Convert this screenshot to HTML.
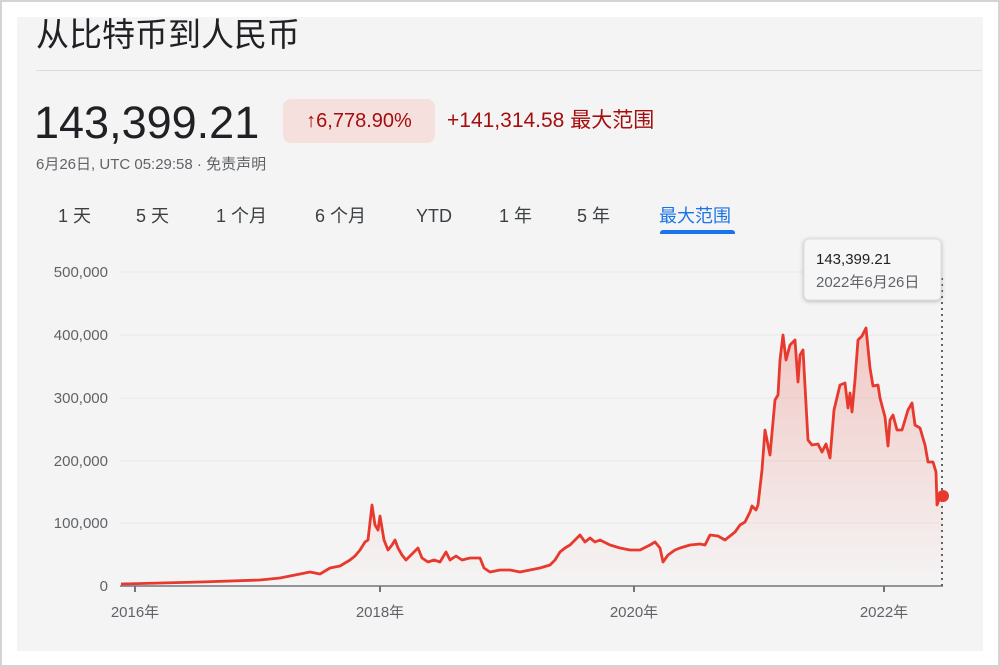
<!DOCTYPE html>
<html><head><meta charset="utf-8"><style>
body{margin:0;width:1000px;height:667px;background:#fff;font-family:"Liberation Sans","Noto Sans CJK SC",sans-serif;position:relative;overflow:hidden}
.frame{position:absolute;left:0;top:0;width:996px;height:663px;border:2px solid #d4d4d4}
.panel{position:absolute;left:17px;top:17px;width:966px;height:634px;background:#f4f4f4}
.t{position:absolute;white-space:nowrap;line-height:1.2}
.tab{position:absolute;white-space:nowrap;top:204px;height:24px;line-height:24px;font-size:18px;color:#3c4043}
</style></head><body>
<div class="frame"></div>
<div class="panel"></div>
<div class="t" style="left:36px;top:15px;font-size:33px;color:#202124">从比特币到人民币</div>
<div style="position:absolute;left:36px;top:70px;width:946px;height:1px;background:#dadce0"></div>
<div class="t" style="left:34px;top:96px;font-size:45px;color:#202124">143,399.21</div>
<div style="position:absolute;left:283px;top:99px;width:152px;height:44px;background:#f6e0de;border-radius:8px;color:#a50e0e;font-size:20px;line-height:44px;text-align:center">↑6,778.90%</div>
<div class="t" style="left:447px;top:108px;font-size:21px;color:#a50e0e">+141,314.58 最大范围</div>
<div class="t" style="left:36px;top:156px;font-size:15px;color:#5f6368">6月26日, UTC 05:29:58 · 免责声明</div>
<div class="tab" style="left:58px">1 天</div>
<div class="tab" style="left:136px">5 天</div>
<div class="tab" style="left:216px">1 个月</div>
<div class="tab" style="left:315px">6 个月</div>
<div class="tab" style="left:416px">YTD</div>
<div class="tab" style="left:499px">1 年</div>
<div class="tab" style="left:577px">5 年</div>
<div class="tab" style="left:659px;color:#1a73e8">最大范围</div>
<div style="position:absolute;left:660px;top:230px;width:75px;height:4px;background:#1a73e8;border-radius:3px 3px 0 0"></div>
<svg width="1000" height="667" style="position:absolute;left:0;top:0" font-family="Liberation Sans, Noto Sans CJK SC, sans-serif">
<defs><linearGradient id="g" x1="0" y1="0" x2="0" y2="1"><stop offset="0" stop-color="#ea4335" stop-opacity="0.25"/><stop offset="1" stop-color="#ea4335" stop-opacity="0"/></linearGradient></defs>
<g stroke="#e8e8e8" stroke-width="1">
<line x1="120" x2="943" y1="272" y2="272"/><line x1="120" x2="943" y1="335" y2="335"/><line x1="120" x2="943" y1="398" y2="398"/><line x1="120" x2="943" y1="461" y2="461"/><line x1="120" x2="943" y1="523" y2="523"/></g>
<g font-size="15" fill="#5f6368" text-anchor="end">
<text x="108" y="277">500,000</text><text x="108" y="340">400,000</text><text x="108" y="403">300,000</text><text x="108" y="466">200,000</text><text x="108" y="528">100,000</text><text x="108" y="591">0</text></g>
<path d="M121,584 L200,582 L260,580 L280,578 L300,574 L310,572 L320,574 L330,568 L340,566 L350,560 L355,556 L360,550 L365,542 L368,540 L372,505 L375,525 L378,530 L380,516 L384,540 L388,550 L392,545 L395,540 L398,548 L402,555 L406,560 L410,556 L414,552 L418,548 L422,558 L428,562 L434,560 L440,562 L446,552 L450,560 L456,556 L462,560 L470,558 L480,558 L484,568 L490,572 L500,570 L510,570 L520,572 L530,570 L540,568 L550,565 L555,560 L560,552 L565,548 L570,545 L575,540 L580,535 L585,542 L590,538 L595,542 L600,540 L610,545 L620,548 L630,550 L640,550 L650,545 L655,542 L660,548 L663,562 L668,555 L675,550 L680,548 L690,545 L700,544 L705,545 L710,535 L718,536 L725,540 L735,532 L740,525 L745,522 L750,512 L752,506 L756,510 L758,505 L762,470 L765,430 L770,455 L775,400 L778,395 L780,360 L783,335 L786,360 L790,345 L795,340 L798,382 L800,355 L803,350 L808,440 L812,445 L818,444 L822,452 L826,444 L830,458 L834,410 L840,385 L845,383 L848,408 L850,393 L852,412 L855,380 L858,340 L862,336 L866,328 L870,368 L873,386 L878,385 L880,398 L885,417 L888,446 L890,420 L893,415 L897,430 L902,430 L908,410 L912,403 L915,425 L920,428 L925,445 L928,462 L933,462 L936,472 L937,505 L940,497 L943,496 L943,586 L121,586 Z" fill="url(#g)"/>
<path d="M121,584 L200,582 L260,580 L280,578 L300,574 L310,572 L320,574 L330,568 L340,566 L350,560 L355,556 L360,550 L365,542 L368,540 L372,505 L375,525 L378,530 L380,516 L384,540 L388,550 L392,545 L395,540 L398,548 L402,555 L406,560 L410,556 L414,552 L418,548 L422,558 L428,562 L434,560 L440,562 L446,552 L450,560 L456,556 L462,560 L470,558 L480,558 L484,568 L490,572 L500,570 L510,570 L520,572 L530,570 L540,568 L550,565 L555,560 L560,552 L565,548 L570,545 L575,540 L580,535 L585,542 L590,538 L595,542 L600,540 L610,545 L620,548 L630,550 L640,550 L650,545 L655,542 L660,548 L663,562 L668,555 L675,550 L680,548 L690,545 L700,544 L705,545 L710,535 L718,536 L725,540 L735,532 L740,525 L745,522 L750,512 L752,506 L756,510 L758,505 L762,470 L765,430 L770,455 L775,400 L778,395 L780,360 L783,335 L786,360 L790,345 L795,340 L798,382 L800,355 L803,350 L808,440 L812,445 L818,444 L822,452 L826,444 L830,458 L834,410 L840,385 L845,383 L848,408 L850,393 L852,412 L855,380 L858,340 L862,336 L866,328 L870,368 L873,386 L878,385 L880,398 L885,417 L888,446 L890,420 L893,415 L897,430 L902,430 L908,410 L912,403 L915,425 L920,428 L925,445 L928,462 L933,462 L936,472 L937,505 L940,497 L943,496" fill="none" stroke="#e8392e" stroke-width="2.8" stroke-linejoin="round"/>
<line x1="120" x2="943" y1="586" y2="586" stroke="#70757a" stroke-width="1.5"/>
<g stroke="#70757a" stroke-width="2"><line x1="135" x2="135" y1="586" y2="592"/><line x1="380" x2="380" y1="586" y2="592"/><line x1="634" x2="634" y1="586" y2="592"/><line x1="884" x2="884" y1="586" y2="592"/></g>
<g font-size="15" fill="#5f6368" text-anchor="middle"><text x="135" y="617">2016年</text><text x="380" y="617">2018年</text><text x="634" y="617">2020年</text><text x="884" y="617">2022年</text></g>
<line x1="942" x2="942" y1="278" y2="586" stroke="#5f6368" stroke-width="2" stroke-dasharray="2,4"/>
<circle cx="943" cy="496" r="6" fill="#e8392e"/>
<rect x="804" y="239" width="137" height="61" rx="5" fill="#f6f6f6" stroke="#ddd" style="filter:drop-shadow(0 1px 2px rgba(0,0,0,.25))"/>
<text x="816" y="264" font-size="15" fill="#202124">143,399.21</text>
<text x="816" y="287" font-size="15" fill="#5f6368">2022年6月26日</text>
</svg>
</body></html>
